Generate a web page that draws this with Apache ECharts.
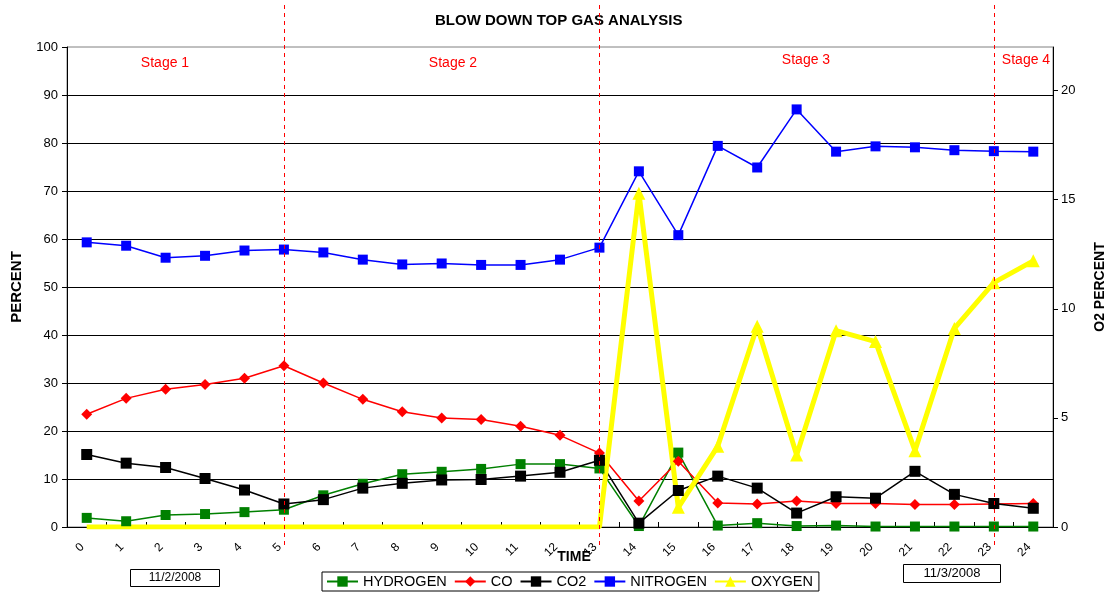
<!DOCTYPE html>
<html>
<head>
<meta charset="utf-8">
<script src="https://cdn.jsdelivr.net/npm/echarts@6/dist/echarts.min.js"></script>
<style>
  html, body { margin: 0; padding: 0; background: #ffffff; }
  #chart { width: 1106px; height: 598px; }
</style>
</head>
<body>
<div id="chart"></div>
<script>
// Sample times (hours into the blow down)
const timeLabels = ['0','1','2','3','4','5','6','7','8','9','10','11','12',
                    '13','14','15','16','17','18','19','20','21','22','23','24'];

// Gas composition, percent (left axis)
const hydrogen = [1.9, 1.2, 2.5, 2.7, 3.1, 3.6, 6.6, 9.0, 11.0, 11.5, 12.1, 13.1, 13.1,
                  12.2, 0.2, 15.5, 0.3, 0.8, 0.2, 0.3, 0.1, 0.1, 0.1, 0.1, 0.1];
const co       = [23.5, 26.8, 28.7, 29.7, 31.0, 33.6, 30.0, 26.6, 24.0, 22.7, 22.4, 21.0, 19.1,
                  15.4, 5.4, 13.7, 5.0, 4.8, 5.4, 4.9, 4.9, 4.7, 4.7, 4.8, 4.9];
const co2      = [15.1, 13.3, 12.4, 10.1, 7.7, 4.8, 5.7, 8.1, 9.1, 9.8, 9.9, 10.6, 11.4,
                  13.9, 0.8, 7.6, 10.6, 8.1, 2.9, 6.3, 6.0, 11.6, 6.8, 4.9, 3.9];
const nitrogen = [59.3, 58.6, 56.1, 56.5, 57.6, 57.8, 57.2, 55.7, 54.7, 54.9, 54.6, 54.6, 55.7,
                  58.2, 74.1, 60.8, 79.4, 74.9, 87.0, 78.2, 79.3, 79.1, 78.5, 78.3, 78.2];

// Oxygen, percent (right axis)
const oxygen   = [0, 0, 0, 0, 0, 0, 0, 0, 0, 0, 0, 0, 0,
                  0, 15.3, 0.9, 3.7, 9.2, 3.3, 9.0, 8.5, 3.5, 9.1, 11.2, 12.2];

// Right axis tick values
const o2Ticks = [0, 5, 10, 15, 20];

// Stage boundaries (sample index) and stage captions
const stageBreaks = [5, 13, 23];
const stageNames = ['Stage 1', 'Stage 2', 'Stage 3', 'Stage 4'];
const dateNotes = ['11/2/2008', '11/3/2008'];

const FONT = '"Liberation Sans", Arial, sans-serif';

const chart = echarts.init(document.getElementById('chart'), null, { renderer: 'canvas' });

function lineSeries(name, data, color, symbol, size, extra) {
  return Object.assign({
    name: name,
    type: 'line',
    data: data,
    symbol: symbol,
    symbolSize: size,
    showAllSymbol: true,
    color: color,
    lineStyle: { color: color, width: 1.5 },
    itemStyle: { color: color },
    emphasis: { disabled: true },
    animation: false
  }, extra || {});
}

const option = {
  animation: false,
  backgroundColor: '#ffffff',
  textStyle: { fontFamily: FONT },
  title: {
    text: 'BLOW DOWN TOP GAS ANALYSIS',
    left: 430,
    top: 8,
    textStyle: { fontFamily: FONT, fontSize: 15, fontWeight: 'bold', color: '#000' }
  },
  grid: {
    left: 67, right: 53, top: 47, bottom: 71,
    outerBoundsMode: 'none',
    containLabel: false,
    show: true, borderColor: '#808080', borderWidth: 1, backgroundColor: 'transparent'
  },
  legend: {
    left: 322,
    top: 572,
    itemWidth: 31,
    itemHeight: 13,
    itemGap: 7,
    padding: [2, 6, 2, 4],
    borderColor: '#000',
    borderWidth: 1,
    textStyle: { fontFamily: FONT, fontSize: 14.5, color: '#000' },
    data: ['HYDROGEN', 'CO', 'CO2', 'NITROGEN', 'OXYGEN']
  },
  xAxis: {
    type: 'category',
    data: timeLabels,
    boundaryGap: true,
    axisLine: { lineStyle: { color: '#000', width: 1 } },
    axisTick: { show: true, inside: true, length: 5, alignWithLabel: false, lineStyle: { color: '#000' } },
    axisLabel: { rotate: 45, fontSize: 12, color: '#000', margin: 14, padding: [0, 6, 0, 0], interval: 0, fontFamily: FONT },
    splitLine: { show: false }
  },
  yAxis: [
    {
      type: 'value',
      min: 0, max: 100, interval: 10,
      name: 'PERCENT',
      nameLocation: 'middle',
      nameRotate: 90,
      nameGap: 43,
      nameTextStyle: { fontFamily: FONT, fontSize: 15, fontWeight: 'bold', color: '#000' },
      axisLine: { show: true, lineStyle: { color: '#000', width: 1 } },
      axisTick: { show: true, length: 5, lineStyle: { color: '#000' } },
      axisLabel: { fontSize: 13, color: '#000', margin: 9, fontFamily: FONT },
      splitLine: { show: true, showMaxLine: false, showMinLine: false, lineStyle: { color: '#000', width: 1 } }
    },
    {
      type: 'value',
      min: 0, max: 22, interval: 5,
      position: 'right',
      name: 'O2 PERCENT',
      nameLocation: 'middle',
      nameRotate: 90,
      nameGap: 40,
      nameTextStyle: { fontFamily: FONT, fontSize: 14, fontWeight: 'bold', color: '#000' },
      axisLine: { show: true, lineStyle: { color: '#000', width: 1 } },
      axisTick: { show: true, length: 5, customValues: o2Ticks, lineStyle: { color: '#000' } },
      axisLabel: { fontSize: 13, color: '#000', margin: 8, customValues: o2Ticks, fontFamily: FONT },
      splitLine: { show: false }
    }
  ],
  series: [
    lineSeries('HYDROGEN', hydrogen, '#008000', 'rect', 10),
    lineSeries('CO', co, '#ff0000', 'diamond', 11),
    lineSeries('CO2', co2, '#000000', 'rect', 11),
    lineSeries('NITROGEN', nitrogen, '#0000ff', 'rect', 10),
    lineSeries('OXYGEN', oxygen, '#ffff00', 'triangle',
      function (v) { return v > 0 ? 13 : 0; },
      { yAxisIndex: 1, lineStyle: { color: '#ffff00', width: 5 }, z: 3 })
  ]
};

chart.setOption(option);

// Stage dividers, captions, date notes and the axis title for time
const graphics = [];
stageBreaks.forEach(function (idx) {
  const x = Math.round(chart.convertToPixel({ xAxisIndex: 0 }, idx)) + 0.5;
  graphics.push({
    type: 'line',
    shape: { x1: x, y1: 5, x2: x, y2: 545 },
    style: { stroke: '#ff0000', lineWidth: 1, lineDash: [4, 4] },
    z: 10, silent: true
  });
});

const stageSpots = [[165, 63], [453, 63], [806, 60], [1026, 60]];
stageNames.forEach(function (t, i) {
  graphics.push({
    type: 'text',
    x: stageSpots[i][0], y: stageSpots[i][1],
    style: { text: t, fill: '#ff0000', font: '14px ' + FONT, textAlign: 'center', textVerticalAlign: 'middle' },
    z: 11, silent: true
  });
});

graphics.push({
  type: 'text', x: 574, y: 557,
  style: { text: 'TIME', fill: '#000', font: 'bold 14px ' + FONT, textAlign: 'center', textVerticalAlign: 'middle' },
  z: 11, silent: true
});

const dateBoxes = [[130.5, 569.5, 89, 17], [903.5, 564.5, 97, 18]];
dateNotes.forEach(function (t, i) {
  const b = dateBoxes[i];
  graphics.push({
    type: 'rect',
    shape: { x: b[0], y: b[1], width: b[2], height: b[3] },
    style: { fill: '#fff', stroke: '#000', lineWidth: 1 },
    z: 11, silent: true
  });
  graphics.push({
    type: 'text', x: b[0] + b[2] / 2, y: b[1] + b[3] / 2,
    style: { text: t, fill: '#000', font: (i === 0 ? '12px ' : '13px ') + FONT, textAlign: 'center', textVerticalAlign: 'middle' },
    z: 12, silent: true
  });
});

chart.setOption({ graphic: graphics });
</script>
</body>
</html>
